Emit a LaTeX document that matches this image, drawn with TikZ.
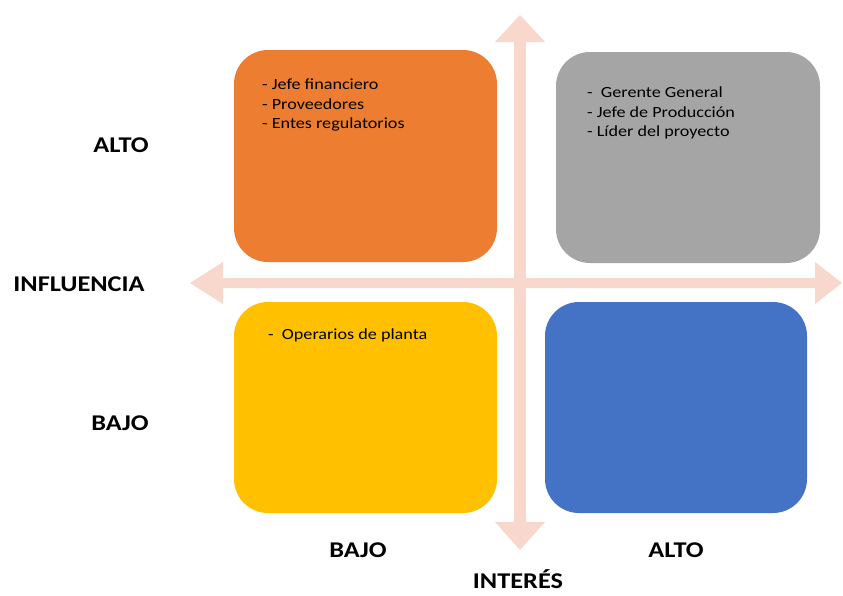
\documentclass[tikz,border=0pt]{standalone}
\usepackage{fontspec}
\setmainfont{Carlito}
\newfontfamily\widefont[FakeStretch=1.17]{Carlito}
\definecolor{axispink}{HTML}{F8D7CD}
\definecolor{quadorange}{HTML}{ED7D31}
\definecolor{quadgray}{HTML}{A5A5A5}
\definecolor{quadyellow}{HTML}{FFC000}
\definecolor{quadblue}{HTML}{4472C4}
\begin{document}
\begin{tikzpicture}[x=1pt,y=-1pt,
  quad/.style={rounded corners=34pt},
  axislabel/.style={inner sep=0pt,font=\widefont\fontsize{22.5}{26}\selectfont\bfseries},
  itemlist/.style={anchor=north west,align=left,inner sep=0pt,font=\widefont\fontsize{15.5}{19.5}\selectfont}]
\useasboundingbox (0,0) rectangle (843,595);
% quadrants
\fill[quad,quadorange] (234,50) rectangle (497,262);
\fill[quad,quadgray] (556,52) rectangle (820,263);
\fill[quad,quadyellow] (234,302) rectangle (497,513);
\fill[quad,quadblue] (545,302) rectangle (807,513);
% axes as block arrows
\fill[axispink] (520,15) -- (545,42) -- (526,42) -- (526,522) -- (545,522) -- (520,550)
  -- (495,522) -- (514,522) -- (514,42) -- (495,42) -- cycle;
\fill[axispink] (190,283) -- (223,262) -- (223,278) -- (815,278) -- (815,262) -- (842,283)
  -- (815,304) -- (815,288) -- (223,288) -- (223,304) -- cycle;
% stakeholder lists
\node[itemlist] (tl) at (262,79) {- Jefe financiero\\- Proveedores\\- Entes regulatorios};
\node[itemlist] (tr) at (587,87) {-\ \ Gerente General\\- Jefe de Producción\\- Líder del proyecto};
\node[itemlist] (bl) at (268,329) {-\ \ Operarios de planta};
% axis labels
\node[axislabel] (infalto) at (121,145) {ALTO};
\node[axislabel] (influencia) at (79,284) {INFLUENCIA};
\node[axislabel] (infbajo) at (120,423) {BAJO};
\node[axislabel] (intbajo) at (358,550) {BAJO};
\node[axislabel] (intalto) at (676,550) {ALTO};
\node[axislabel] (interes) at (518,579) {INTERÉS};
\end{tikzpicture}
\end{document}
